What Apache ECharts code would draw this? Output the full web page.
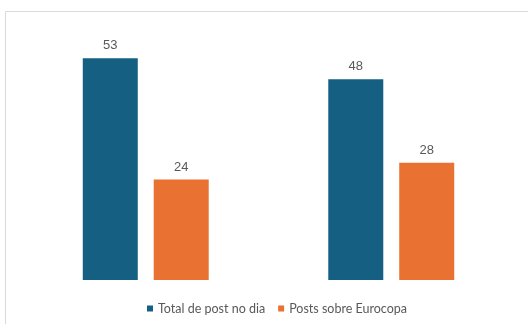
<!DOCTYPE html>
<html>
<head>
<meta charset="utf-8">
<script src="https://cdn.jsdelivr.net/npm/echarts@6/dist/echarts.min.js"></script>
<style>
  html, body { margin: 0; padding: 0; background: #fff; }
  #chart { width: 528px; height: 324px; }
</style>
</head>
<body>
<div id="chart"></div>
<script>
// dados do gráfico
const categories = ['Dia 1', 'Dia 2'];
const totalPosts = [53, 48];
const euroPosts = [24, 28];
const seriesNames = ['Total de post no dia', 'Posts sobre Eurocopa'];

const chart = echarts.init(document.getElementById('chart'));

const labelStyle = {
    show: true,
    position: 'top',
    distance: 6,
    color: '#595959',
    fontSize: 13,
    fontFamily: 'Liberation Sans'
};

const option = {
    animation: false,
    graphic: [{
        type: 'rect',
        shape: { x: 5.5, y: 11.5, width: 600, height: 400 },
        style: { fill: 'none', stroke: '#d9d9d9', lineWidth: 1 },
        silent: true
    }],
    legend: {
        data: seriesNames,
        top: 297,
        left: 142,
        itemWidth: 6,
        itemHeight: 6,
        itemGap: 13,
        icon: 'rect',
        textStyle: { color: '#595959', fontSize: 12.5, fontFamily: 'Lato' }
    },
    grid: { left: 23, right: 14, top: 29, bottom: 44 },
    xAxis: {
        type: 'category',
        data: categories,
        axisLine: { show: false },
        axisTick: { show: false },
        axisLabel: { show: false }
    },
    yAxis: {
        type: 'value',
        min: 0,
        max: 60,
        show: false,
        splitLine: { show: false }
    },
    series: [{
        name: seriesNames[0],
        type: 'bar',
        data: totalPosts,
        barWidth: 55,
        barGap: '29%',
        itemStyle: { color: '#156082' },
        label: labelStyle
    }, {
        name: seriesNames[1],
        type: 'bar',
        data: euroPosts,
        barWidth: 55,
        itemStyle: { color: '#e97132' },
        label: labelStyle
    }]
};

chart.setOption(option);
</script>
</body>
</html>
